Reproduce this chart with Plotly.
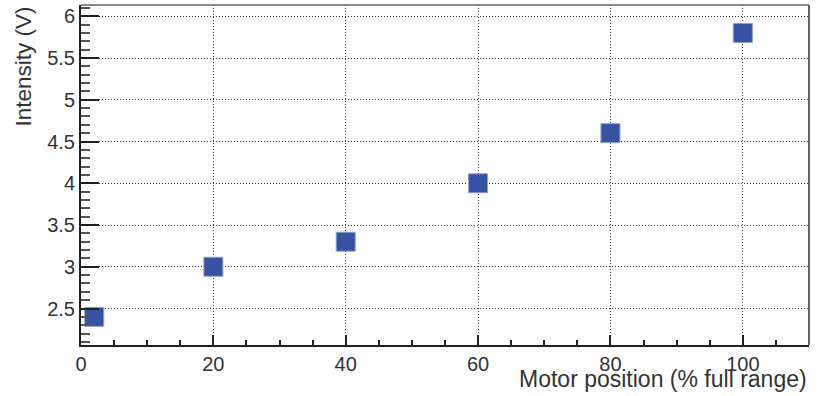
import plotly.graph_objects as go

motor_position = [2, 20, 40, 60, 80, 100]
intensity = [2.4, 3.0, 3.3, 4.0, 4.6, 5.8]

x_title = "Motor position (% full range)"
y_title = "Intensity (V)"

fig = go.Figure()
fig.add_trace(go.Scatter(
    x=motor_position, y=intensity, mode="markers",
    marker=dict(symbol="square", size=19, color="#3752a3",
                line=dict(color="#8fa0d0", width=1)),
    showlegend=False,
))

font_family = "Liberation Sans, Arial, sans-serif"
axis_common = dict(
    showgrid=True, gridcolor="#333333", gridwidth=1, griddash="1px,2px",
    zeroline=False, showline=True, linecolor="#222222", linewidth=2,
    ticks="inside", tickcolor="#222222", tickwidth=1.5,
    tickfont=dict(family=font_family, size=20, color="#333333"),
)

fig.update_layout(
    width=821, height=396,
    margin=dict(l=81, r=12, t=5, b=51),
    plot_bgcolor="white", paper_bgcolor="white",
    font=dict(family=font_family, color="#333333"),
    xaxis=dict(range=[0, 110], dtick=20, ticklen=10,
               minor=dict(dtick=5, ticks="inside", ticklen=5, tickcolor="#222222", showgrid=False),
               **axis_common),
    yaxis=dict(range=[2.063, 6.135], dtick=0.5, ticklen=18,
               minor=dict(dtick=0.1, ticks="inside", ticklen=9, tickcolor="#555555", showgrid=False),
               **axis_common),
    shapes=[
        dict(type="line", xref="paper", yref="paper", x0=0, x1=1, y0=1, y1=1,
             line=dict(color="#666666", width=1.5)),
        dict(type="line", xref="paper", yref="paper", x0=1, x1=1, y0=0, y1=1,
             line=dict(color="#666666", width=2)),
    ],
    annotations=[
        dict(text=x_title, xref="paper", yref="paper", x=1, y=0,
             xanchor="right", yanchor="top", yshift=-19, showarrow=False,
             font=dict(family=font_family, size=23, color="#333333")),
        dict(text=y_title, xref="paper", yref="paper", x=0, y=1,
             xanchor="right", yanchor="top", xshift=-44, showarrow=False, textangle=-90,
             font=dict(family=font_family, size=22.5, color="#333333")),
    ],
)

fig.write_html("out.html", config={"displayModeBar": False},
               post_script="document.body.style.margin='0';document.body.style.padding='0';")
